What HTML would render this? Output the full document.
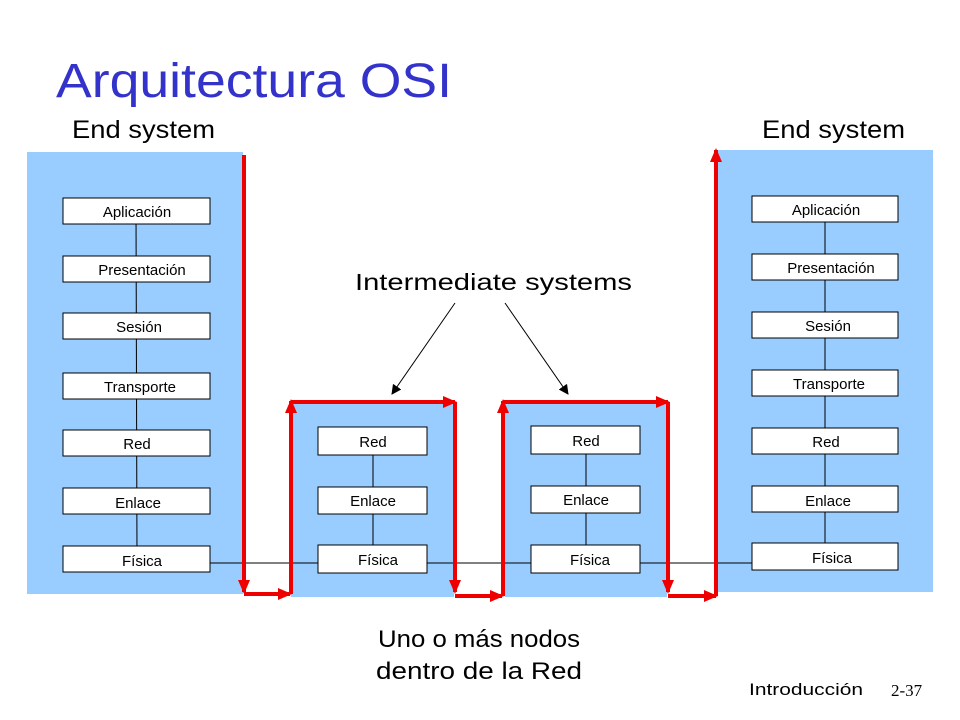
<!DOCTYPE html>
<html><head><meta charset="utf-8"><style>
html,body{margin:0;padding:0;background:#fff}
svg{display:block}
text{font-family:"Liberation Sans",sans-serif}
</style></head><body>
<svg width="960" height="720" viewBox="0 0 960 720" xmlns="http://www.w3.org/2000/svg">
<defs>
<marker id="ar" markerWidth="14" markerHeight="12" refX="12" refY="6" orient="auto" markerUnits="userSpaceOnUse" viewBox="0 0 14 12"><path d="M0,0 L14,6 L0,12 z" fill="#ee0000"/></marker>
<marker id="ab" markerWidth="10" markerHeight="10" refX="9" refY="5" orient="auto" markerUnits="userSpaceOnUse"><path d="M0,0 L10,5 L0,10 z" fill="#000"/></marker>
</defs>
<text x="56" y="97" font-size="48" fill="#3333cc" textLength="396" lengthAdjust="spacingAndGlyphs">Arquitectura OSI</text>
<text x="72" y="138" font-size="25" fill="#000" textLength="143" lengthAdjust="spacingAndGlyphs">End system</text>
<text x="762" y="138" font-size="25" fill="#000" textLength="143" lengthAdjust="spacingAndGlyphs">End system</text>
<rect x="27" y="152" width="216" height="442" fill="#99ccff"/>
<rect x="718" y="150" width="215" height="442" fill="#99ccff"/>
<rect x="291" y="403" width="163" height="194" fill="#99ccff"/>
<rect x="505" y="402" width="162" height="195" fill="#99ccff"/>
<line x1="210" y1="563" x2="752" y2="563" stroke="#000" stroke-width="1"/>
<g stroke="#000" stroke-width="1">
<line x1="136" y1="210" x2="137" y2="560"/>
<line x1="825" y1="210" x2="825" y2="556"/>
<line x1="373" y1="440" x2="373" y2="560"/>
<line x1="586" y1="440" x2="586" y2="560"/>
</g>
<g fill="#fff" stroke="#000" stroke-width="1">
<rect x="63" y="198" width="147" height="26"/><rect x="63" y="256" width="147" height="26"/>
<rect x="63" y="313" width="147" height="26"/><rect x="63" y="373" width="147" height="26"/>
<rect x="63" y="430" width="147" height="26"/><rect x="63" y="488" width="147" height="26"/>
<rect x="63" y="546" width="147" height="26"/>
<rect x="752" y="196" width="146" height="26"/><rect x="752" y="254" width="146" height="26"/>
<rect x="752" y="312" width="146" height="26"/><rect x="752" y="370" width="146" height="26"/>
<rect x="752" y="428" width="146" height="26"/><rect x="752" y="486" width="146" height="26"/>
<rect x="752" y="543" width="146" height="27"/>
<rect x="318" y="427" width="109" height="28"/><rect x="318" y="487" width="109" height="27"/><rect x="318" y="545" width="109" height="28"/>
<rect x="531" y="426" width="109" height="28"/><rect x="531" y="486" width="109" height="27"/><rect x="531" y="545" width="109" height="28"/>
</g>
<g font-size="15" fill="#000" text-anchor="middle">
<text x="137" y="217">Aplicación</text><text x="142" y="275">Presentación</text>
<text x="139" y="332">Sesión</text><text x="140" y="392">Transporte</text>
<text x="137" y="449">Red</text><text x="138" y="508">Enlace</text><text x="142" y="566">Física</text>
<text x="826" y="215">Aplicación</text><text x="831" y="273">Presentación</text>
<text x="828" y="331">Sesión</text><text x="829" y="389">Transporte</text>
<text x="826" y="447">Red</text><text x="828" y="506">Enlace</text><text x="832" y="563">Física</text>
<text x="373" y="447">Red</text><text x="373" y="506">Enlace</text><text x="378" y="565">Física</text>
<text x="586" y="446">Red</text><text x="586" y="505">Enlace</text><text x="590" y="565">Física</text>
</g>
<g stroke="#ee0000" stroke-width="4" fill="none" marker-end="url(#ar)">
<path d="M244,155 V592"/><path d="M244,594 H290"/>
<path d="M291,594 V401"/><path d="M291,402 H455"/>
<path d="M455,402 V592"/><path d="M455,596 H502"/>
<path d="M503,596 V401"/><path d="M503,402 H668"/>
<path d="M668,402 V592"/><path d="M668,596 H716"/>
<path d="M716,596 V150"/>
</g>
<text x="355" y="290" font-size="23" fill="#000" textLength="277" lengthAdjust="spacingAndGlyphs">Intermediate systems</text>
<line x1="455" y1="303" x2="392" y2="394" stroke="#000" stroke-width="1" marker-end="url(#ab)"/>
<line x1="505" y1="303" x2="568" y2="394" stroke="#000" stroke-width="1" marker-end="url(#ab)"/>
<text x="378" y="647" font-size="24" fill="#000" textLength="202" lengthAdjust="spacingAndGlyphs">Uno o más nodos</text>
<text x="376" y="679" font-size="24" fill="#000" textLength="206" lengthAdjust="spacingAndGlyphs">dentro de la Red</text>
<text x="749" y="695" font-size="17" fill="#000" textLength="114" lengthAdjust="spacingAndGlyphs">Introducción</text>
<text x="891" y="696" font-size="17" fill="#000" style="font-family:'Liberation Serif',serif">2-37</text>
</svg>
</body></html>
